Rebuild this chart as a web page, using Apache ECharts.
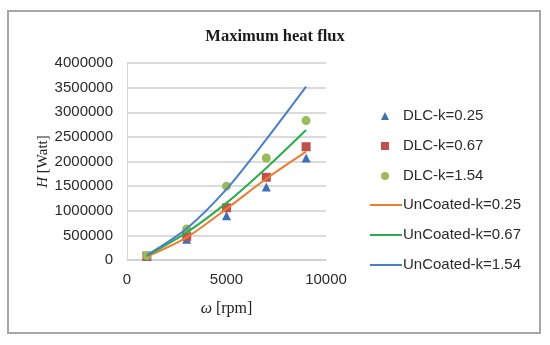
<!DOCTYPE html>
<html>
<head>
<meta charset="utf-8">
<script src="https://cdn.jsdelivr.net/npm/echarts@6/dist/echarts.min.js"></script>
<style>html,body{margin:0;padding:0;background:#fff}#c{width:550px;height:345px}</style>
</head>
<body>
<div id="c"></div>
<script>
const rpm = [1000, 3000, 5000, 7000, 9000];
const dlc025 = [70000, 420000, 900000, 1480000, 2070000];
const dlc067 = [80000, 480000, 1060000, 1680000, 2300000];
const dlc154 = [90000, 630000, 1500000, 2070000, 2830000];
const unc025 = [70000, 460000, 1040000, 1650000, 2200000];
const unc067 = [85000, 560000, 1160000, 1870000, 2640000];
const unc154 = [100000, 640000, 1440000, 2450000, 3520000];
const xTicks = [0, 5000, 10000];
const yTicks = [0, 500000, 1000000, 1500000, 2000000, 2500000, 3000000, 3500000, 4000000];

function pairs(ys) { return rpm.map((x, i) => [x, ys[i]]); }

const chart = echarts.init(document.getElementById('c'), null, {renderer: 'canvas'});
const font = 'Liberation Sans, Arial, sans-serif';
const serif = 'Liberation Serif, Times New Roman, serif';
const legendText = {fontFamily: font, fontSize: 15, color: '#2b2b2b', lineHeight: 18};
chart.setOption({
  animation: false,
  backgroundColor: '#fff',
  graphic: [{
    type: 'rect', shape: {x: 8, y: 11, width: 532, height: 322},
    style: {fill: 'none', stroke: '#a6a6a6', lineWidth: 2}, silent: true
  }],
  title: {
    text: 'Maximum heat flux', left: 'center', top: 23,
    textStyle: {fontFamily: serif, fontWeight: 'bold', fontSize: 16.5, color: '#1a1a1a'}
  },
  grid: {left: 127, right: 224, top: 63, bottom: 85},
  xAxis: {
    type: 'value', min: xTicks[0], max: xTicks[xTicks.length - 1], interval: 5000,
    name: '{i|ω} [rpm]', nameLocation: 'middle', nameGap: 41,
    nameTextStyle: {fontFamily: serif, fontSize: 16, color: '#222', rich: {i: {fontFamily: serif, fontSize: 16, fontStyle: 'italic', color: '#222'}}},
    axisLine: {show: true, lineStyle: {color: '#cfcfcf', width: 1.5}},
    axisTick: {show: false},
    splitLine: {show: false},
    axisLabel: {fontFamily: font, fontSize: 15, color: '#2b2b2b', margin: 12, formatter: v => String(v)}
  },
  yAxis: {
    type: 'value', min: yTicks[0], max: yTicks[yTicks.length - 1], interval: 500000,
    name: '{i|H} [Watt]', nameLocation: 'middle', nameGap: 74, nameRotate: 90,
    nameTextStyle: {fontFamily: serif, fontSize: 15, color: '#222', rich: {i: {fontFamily: serif, fontSize: 15, fontStyle: 'italic', color: '#222'}}},
    axisLine: {show: true, lineStyle: {color: '#d6d6d6', width: 1}},
    axisTick: {show: false},
    splitLine: {show: true, lineStyle: {color: '#cfcfcf', width: 1.5}},
    axisLabel: {fontFamily: font, fontSize: 15, color: '#2b2b2b', margin: 14, formatter: v => String(v)}
  },
  legend: [
    {
      orient: 'vertical', left: 376, top: 102, itemWidth: 8, itemHeight: 8, itemGap: 12,
      textStyle: Object.assign({padding: [0, 0, 0, 9]}, legendText),
      data: [
        {name: 'DLC-k=0.25', icon: 'triangle'},
        {name: 'DLC-k=0.67', icon: 'rect'},
        {name: 'DLC-k=1.54', icon: 'circle'}
      ]
    },
    {
      orient: 'vertical', left: 365, top: 191, itemWidth: 32, itemHeight: 2, itemGap: 12,
      textStyle: Object.assign({padding: [0, 0, 0, -4]}, legendText),
      data: [
        {name: 'UnCoated-k=0.25', icon: 'rect'},
        {name: 'UnCoated-k=0.67', icon: 'rect'},
        {name: 'UnCoated-k=1.54', icon: 'rect'}
      ]
    }
  ],
  series: [
    {name: 'DLC-k=0.25', type: 'scatter', symbol: 'triangle', symbolSize: 9, data: pairs(dlc025), itemStyle: {color: '#3f6fb8', opacity: 1}},
    {name: 'DLC-k=0.67', type: 'scatter', symbol: 'rect', symbolSize: 9, data: pairs(dlc067), itemStyle: {color: '#c0504d', opacity: 1}},
    {name: 'DLC-k=1.54', type: 'scatter', symbol: 'circle', symbolSize: 9, data: pairs(dlc154), itemStyle: {color: '#9bbb59', opacity: 1}},
    {name: 'UnCoated-k=0.25', type: 'line', symbol: 'none', smooth: 0.3, data: pairs(unc025), lineStyle: {color: '#ed7d31', width: 2}, itemStyle: {color: '#ed7d31'}},
    {name: 'UnCoated-k=0.67', type: 'line', symbol: 'none', smooth: 0.3, data: pairs(unc067), lineStyle: {color: '#2aad4c', width: 2}, itemStyle: {color: '#2aad4c'}},
    {name: 'UnCoated-k=1.54', type: 'line', symbol: 'none', smooth: 0.3, data: pairs(unc154), lineStyle: {color: '#4a7ec7', width: 2}, itemStyle: {color: '#4a7ec7'}}
  ]
});
</script>
</body>
</html>
